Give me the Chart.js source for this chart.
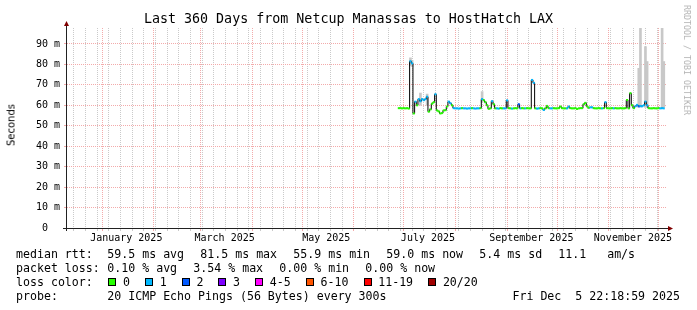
<!DOCTYPE html>
<html>
<head>
<meta charset="utf-8">
<script src="https://cdn.jsdelivr.net/npm/chart.js@4.4.1/dist/chart.umd.min.js"></script>
<style>
  body { margin: 0; background: #fff; }
  #wrap { position: relative; width: 697px; height: 310px; overflow: hidden; font-family: 'DejaVu Sans Mono', monospace; color: #000; }
  #wrap canvas { position: absolute; left: 0; top: 0; }
  .txt { position: absolute; white-space: pre; font-size: 11.6px; line-height: 14px; }
  .box { position: absolute; width: 6px; height: 6px; border: 1px solid #000; }
  #title { position: absolute; left: 0; top: 11px; width: 697px; text-align: center; font-size: 13.33px; line-height: 16px; white-space: pre; }
  #ylab { position: absolute; left: 11px; top: 125px; transform: translate(-50%, -50%) rotate(-90deg); font-family: 'DejaVu Sans', sans-serif; font-size: 10px; color: #000; white-space: nowrap; }
  #mark { position: absolute; left: 686.5px; top: 60px; transform: translate(-50%, -50%) rotate(90deg); font-size: 8.3px; color: #b4b4b4; white-space: nowrap; }
</style>
</head>
<body>
<div id="wrap">
  <canvas id="chart" width="697" height="310"></canvas>
  <div id="title">Last 360 Days from Netcup Manassas to HostHatch LAX</div>
  <div id="ylab">Seconds</div>
  <div id="mark">RRDTOOL / TOBI OETIKER</div>
</div>
<script>
// days counted from Jan 1 2025, one median value per day
const startDay = 178;
const medianRtt = [
  58.6, 58.6, 58.5, 58.6, 58.5, 58.6, 58.4, 81.5, 80.5, 56.0,
  61.8, 60.0, 63.0, 62.0, 63.0, 62.5, 63.0, 64.2, 56.9, 58.0,
  60.8, 61.5, 65.4, 57.5, 57.0, 56.0, 56.2, 57.5, 57.6, 59.4,
  61.8, 61.0, 60.0, 58.6, 58.5, 58.5, 58.4, 58.5, 58.6, 58.5,
  58.5, 58.4, 58.5, 58.5, 58.6, 58.5, 58.4, 58.5, 58.5, 58.6,
  63.0, 62.5, 61.5, 60.0, 58.3, 58.5, 62.0, 60.5, 58.5, 58.5,
  58.4, 58.6, 58.5, 58.5, 58.5, 62.4, 58.6, 58.5, 58.4, 58.5,
  58.6, 58.5, 60.5, 58.5, 58.6, 58.5, 58.5, 58.6, 58.5, 58.5,
  72.4, 71.0, 58.5, 58.4, 58.5, 58.6, 58.5, 57.7, 58.5, 59.7,
  58.6, 58.5, 58.5, 58.6, 58.5, 58.5, 58.6, 59.4, 58.6, 58.5,
  58.5, 58.5, 59.4, 58.6, 58.5, 58.5, 58.6, 58.2, 58.5, 58.6,
  58.6, 60.5, 61.2, 59.5, 58.8, 59.0, 59.0, 58.6, 58.5, 58.5,
  58.6, 58.5, 58.5, 58.6, 61.5, 58.6, 58.5, 58.5, 58.6, 58.5,
  58.6, 58.5, 58.5, 58.6, 58.5, 58.5, 58.6, 62.6, 58.5, 65.9,
  60.0, 58.6, 59.5, 60.2, 59.5, 59.7, 59.5, 60.0, 61.8, 60.0,
  58.6, 58.5, 58.5, 58.6, 58.5, 58.5, 58.6, 58.5, 58.6, 58.5
];
const lossCount = [
  0, 0, 0, 0, 0, 0, 0, 1, 1, 0,
  1, 0, 1, 1, 1, 1, 1, 1, 0, 0,
  0, 0, 1, 0, 0, 0, 0, 0, 0, 0,
  1, 1, 0, 1, 1, 1, 1, 1, 0, 1,
  1, 1, 1, 1, 0, 1, 1, 1, 1, 0,
  1, 0, 0, 0, 0, 0, 1, 0, 0, 1,
  1, 0, 0, 1, 1, 1, 0, 0, 1, 0,
  0, 0, 2, 1, 0, 0, 1, 0, 0, 0,
  1, 1, 0, 1, 1, 0, 0, 1, 0, 0,
  0, 1, 1, 0, 0, 0, 0, 0, 0, 0,
  0, 1, 1, 0, 0, 0, 0, 0, 0, 0,
  0, 0, 0, 0, 0, 1, 1, 0, 0, 0,
  0, 0, 1, 0, 1, 0, 0, 0, 0, 1,
  0, 0, 0, 0, 0, 0, 0, 0, 0, 0,
  0, 0, 1, 1, 2, 1, 1, 1, 1, 1,
  0, 0, 0, 0, 0, 0, 0, 1, 1, 1
];
// visible smoke (spread of the 20 pings)
const smokeDay = [185, 186, 191, 195, 228, 322, 323, 326, 327, 336, 337];
const smokeLow = [79.5, 79.0, 60.0, 60.0, 61.5, 59.0, 59.0, 59.0, 59.0, 59.0, 59.0];
const smokeHigh = [83.2, 82.0, 66.0, 65.5, 66.7, 78.1, 99.0, 88.7, 81.4, 99.0, 81.4];

const monthStarts = [0, 31, 59, 90, 120, 151, 181, 212, 243, 273, 304, 334];
const labelDays = [14.5, 73.5, 134.5, 195.5, 257.5, 318.5];
const labelNames = ['January 2025', 'March 2025', 'May 2025', 'July 2025', 'September 2025', 'November 2025'];
const yGridValues = [0, 5, 10, 15, 20, 25, 30, 35, 40, 45, 50, 55, 60, 65, 70, 75, 80, 85, 90, 95];

const lossLabels = ['0', '1', '2', '3', '4-5', '6-10', '11-19', '20/20'];
const lossColors = ['#26ff00', '#00b8ff', '#0059ff', '#7e00ff', '#ff00ff', '#ff5500', '#ff0000', '#a00000'];

const rttStats = ['59.5 ms avg', '81.5 ms max', '55.9 ms min', '59.0 ms now', '5.4 ms sd', '11.1   am/s'];
const lossStats = ['0.10 % avg', '3.54 % max', '0.00 % min', '0.00 % now'];
const probeText = '20 ICMP Echo Pings (56 Bytes) every 300s';
const dateText = 'Fri Dec  5 22:18:59 2025';

const xMin = -21.07, xMax = 338.93, yMax = 97.8;
const RED = '#f3abab', GREY = '#cacaca';

function colorForLoss(n) {
  if (n <= 3) return lossColors[n];
  if (n <= 5) return lossColors[4];
  if (n <= 10) return lossColors[5];
  if (n <= 19) return lossColors[6];
  return lossColors[7];
}

// grid positions along x: weekly (Sundays), month starts, label anchors
const weekLines = [];
for (let d = -17; d < xMax; d += 7) if (!monthStarts.includes(d)) weekLines.push(d);
const xTicks = [...weekLines, ...monthStarts, ...labelDays].sort((a, b) => a - b);

const medianPts = medianRtt.map((v, i) => ({ x: startDay + i, y: v }));

// footer legend text
const wrap = document.getElementById('wrap');
function addText(str, x, yc, extra) {
  const el = document.createElement('div');
  el.className = 'txt';
  el.textContent = str;
  el.style.left = x + 'px';
  el.style.top = (yc - 7) + 'px';
  if (extra) Object.assign(el.style, extra);
  wrap.appendChild(el);
  return el;
}
const CW = 7;
addText('median rtt:', 16, 254.3);
let px = 107.3;
rttStats.forEach(s => { addText(s, px, 254.3); px += s.length * CW + 16; });
addText('packet loss:', 16, 268.3);
px = 107.3;
lossStats.forEach(s => { addText(s, px, 268.3); px += s.length * CW + 16; });
addText('loss color:', 16, 282.3);
px = 108.3;
lossLabels.forEach((s, i) => {
  const b = document.createElement('div');
  b.className = 'box';
  b.style.left = px + 'px';
  b.style.top = '278px';
  b.style.background = lossColors[i];
  wrap.appendChild(b);
  addText(s, px + 14.7, 282.3);
  px += 14.7 + s.length * CW + 15;
});
addText('probe:', 16, 296.3);
addText(probeText, 107.3, 296.3);
addText(dateText, 0, 296.3, { left: 'auto', right: '17px' });

const axisArrows = {
  id: 'axisArrows',
  afterDraw(chart) {
    const { ctx, chartArea: a } = chart;
    ctx.save();
    ctx.strokeStyle = '#212121';
    ctx.lineWidth = 1;
    ctx.beginPath();
    ctx.moveTo(a.left - 4, a.bottom + 0.5);
    ctx.lineTo(a.right + 1, a.bottom + 0.5);
    ctx.moveTo(a.left - 0.5, a.bottom + 3);
    ctx.lineTo(a.left - 0.5, a.top - 2);
    ctx.stroke();
    ctx.fillStyle = '#800000';
    ctx.beginPath();
    ctx.moveTo(a.left - 0.5, a.top - 7);
    ctx.lineTo(a.left - 3, a.top - 2);
    ctx.lineTo(a.left + 2, a.top - 2);
    ctx.closePath();
    ctx.fill();
    ctx.beginPath();
    ctx.moveTo(a.right + 6, a.bottom + 0.5);
    ctx.lineTo(a.right + 1, a.bottom - 2);
    ctx.lineTo(a.right + 1, a.bottom + 3);
    ctx.closePath();
    ctx.fill();
    ctx.restore();
  }
};

Chart.defaults.font.family = 'DejaVu Sans Mono';

new Chart(document.getElementById('chart'), {
  type: 'line',
  data: {
    datasets: [
      {
        type: 'bar',
        data: smokeDay.map((d, i) => ({ x: d, y: [smokeLow[i], smokeHigh[i]] })),
        backgroundColor: '#c8c8c8',
        borderWidth: 0,
        barThickness: 2,
        order: 3
      },
      {
        data: medianPts,
        borderColor: '#000',
        borderWidth: 1,
        stepped: 'middle',
        pointRadius: 0,
        order: 2
      },
      {
        data: medianPts,
        showLine: false,
        pointStyle: 'line',
        pointRadius: 1,
        pointBorderWidth: 2,
        pointBorderColor: ctx => colorForLoss(lossCount[ctx.dataIndex]),
        order: 1
      }
    ]
  },
  options: {
    responsive: false,
    animation: false,
    events: [],
    layout: { padding: { top: 28, right: 30, bottom: 62, left: 0 } },
    plugins: { legend: { display: false }, tooltip: { enabled: false } },
    scales: {
      x: {
        type: 'linear',
        min: xMin,
        max: xMax,
        offset: false,
        afterBuildTicks: s => { s.ticks = xTicks.map(v => ({ value: v })); },
        afterFit: s => { s.height = 20; },
        grid: {
          offset: false,
          lineWidth: 1,
          tickLength: 3,
          color: ctx => {
            const v = ctx.tick ? ctx.tick.value : null;
            if (monthStarts.includes(v)) return RED;
            if (labelDays.includes(v)) return 'rgba(0,0,0,0)';
            return GREY;
          }
        },
        border: { display: false, dash: [1, 1] },
        ticks: {
          autoSkip: false,
          maxRotation: 0,
          minRotation: 0,
          padding: 1,
          color: '#000',
          font: { size: 10 },
          callback: v => {
            const k = labelDays.indexOf(v);
            return k >= 0 ? labelNames[k] : '';
          }
        }
      },
      y: {
        min: 0,
        max: yMax,
        afterBuildTicks: s => { s.ticks = yGridValues.map(v => ({ value: v })); },
        afterFit: s => { s.width = 67; },
        grid: {
          lineWidth: 1,
          tickLength: 3,
          color: ctx => (ctx.tick && ctx.tick.value % 10 === 0) ? RED : GREY
        },
        border: { display: false, dash: [1, 1] },
        ticks: {
          padding: 4,
          color: '#000',
          font: { size: 10 },
          callback: v => v % 10 === 0 ? (v === 0 ? '0  ' : v + ' m') : ''
        }
      }
    }
  },
  plugins: [axisArrows]
});
</script>
</body>
</html>
